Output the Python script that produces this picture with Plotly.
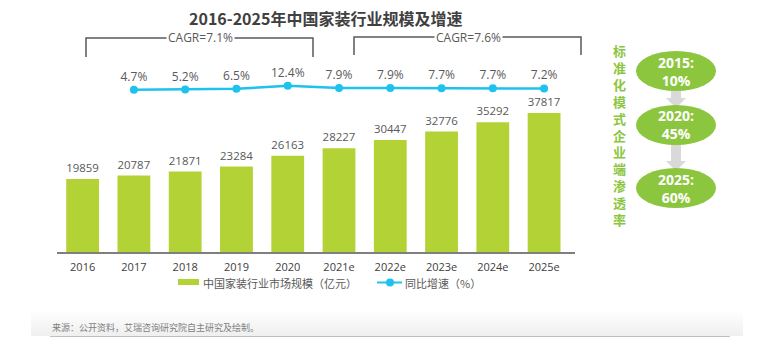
import plotly.graph_objects as go

# ---------------- data ----------------
years = ["2016", "2017", "2018", "2019", "2020", "2021e", "2022e", "2023e", "2024e", "2025e"]
market_size = [19859, 20787, 21871, 23284, 26163, 28227, 30447, 32776, 35292, 37817]
growth_pct = [4.7, 5.2, 6.5, 12.4, 7.9, 7.9, 7.7, 7.7, 7.2]
growth_years = years[1:]
growth_labels = ["4.7%", "5.2%", "6.5%", "12.4%", "7.9%", "7.9%", "7.7%", "7.7%", "7.2%"]
cagr_labels = ["CAGR=7.1%", "CAGR=7.6%"]
penetration_labels = ["2015:<br>10%", "2020:<br>45%", "2025:<br>60%"]
side_title = "标准化模式企业端渗透率"
title_text = "2016-2025年中国家装行业规模及增速"
legend_bar = "中国家装行业市场规模（亿元）"
legend_line = "同比增速（%）"
source_text = "来源：公开资料，艾瑞咨询研究院自主研究及绘制。"

# ---------------- layout geometry (pixels) ----------------
W, H = 784, 349
ML, MR, MT, MB = 57, 209, 30, 97
PW, PH = W - ML - MR, H - MT - MB

def px(x):
    return (x - ML) / PW

def py(y):
    return (H - MB - y) / PH

FONT = "Open Sans, Noto Sans CJK SC, sans-serif"
CJK = "Noto Sans CJK SC, sans-serif"
BAR_COLOR = "#b3d235"
LINE_COLOR = "#1ec2ee"
GREEN = "#8cc63f"
TXT = "#595959"

fig = go.Figure()
fig.add_trace(go.Bar(
    x=years, y=market_size, marker=dict(color=BAR_COLOR, line=dict(width=0)),
    text=[str(v) for v in market_size], textposition="outside",
    textfont=dict(size=12, color=TXT, family=FONT), cliponaxis=False,
    showlegend=False, hoverinfo="skip",
))
fig.add_trace(go.Scatter(
    x=growth_years, y=growth_pct, yaxis="y2", mode="lines+markers+text",
    line=dict(color=LINE_COLOR, width=2.5), marker=dict(color=LINE_COLOR, size=8),
    text=growth_labels, textposition="top center",
    textfont=dict(size=12, color=TXT, family=FONT), cliponaxis=False,
    showlegend=False, hoverinfo="skip",
))

shapes = []
annotations = []

# title
annotations.append(dict(x=px(325), y=py(18), xref="paper", yref="paper", text="<b>" + title_text + "</b>",
                        showarrow=False, font=dict(size=16, color="#404040", family=CJK),
                        xanchor="center", yanchor="middle"))

# CAGR brackets
LC = "#595959"
for (x0, x1, yt, yb, lbl) in [(86, 313, 38, 57, cagr_labels[0]), (354, 581, 37, 55, cagr_labels[1])]:
    shapes.append(dict(type="path", xref="paper", yref="paper",
                       path=f"M {px(x0)},{py(yb)} L {px(x0)},{py(yt)} L {px(x1)},{py(yt)} L {px(x1)},{py(yb)}",
                       line=dict(color=LC, width=1.5)))
    annotations.append(dict(x=px((x0 + x1) / 2 + 1), y=py(yt), xref="paper", yref="paper", text=lbl,
                            showarrow=False, bgcolor="white", borderpad=1,
                            font=dict(size=12, color=TXT, family=FONT), xanchor="center", yanchor="middle"))

# vertical side title (one character per line)
annotations.append(dict(x=px(619), y=py(135), xref="paper", yref="paper",
                        text="<b>" + "<br>".join(side_title) + "</b>",
                        showarrow=False, font=dict(size=13, color=GREEN, family=CJK),
                        xanchor="center", yanchor="middle", align="center"))

# penetration ellipses + arrows
cx = 676
centers = [71, 125, 188]
ew, eh = 80, 40
for i in range(len(centers) - 1):
    top = centers[i] + eh / 2 - 4
    bottom = centers[i + 1] - eh / 2 + 3
    head = bottom - 10
    path = (f"M {px(cx-5)},{py(top)} L {px(cx+5)},{py(top)} L {px(cx+5)},{py(head)} "
            f"L {px(cx+10)},{py(head)} L {px(cx)},{py(bottom)} L {px(cx-10)},{py(head)} "
            f"L {px(cx-5)},{py(head)} Z")
    shapes.append(dict(type="path", xref="paper", yref="paper", path=path,
                       fillcolor="#d9d9d9", line=dict(width=0), layer="below"))
for c, lbl in zip(centers, penetration_labels):
    shapes.append(dict(type="circle", xref="paper", yref="paper",
                       x0=px(cx - ew / 2), x1=px(cx + ew / 2), y0=py(c + eh / 2), y1=py(c - eh / 2),
                       fillcolor=GREEN, line=dict(width=0)))
    annotations.append(dict(x=px(cx), y=py(c), xref="paper", yref="paper", text="<b>" + lbl + "</b>",
                            showarrow=False, font=dict(size=14, color="white", family=FONT),
                            xanchor="center", yanchor="middle"))

# custom legend
shapes.append(dict(type="rect", xref="paper", yref="paper", x0=px(178), x1=px(199), y0=py(279), y1=py(285),
                   fillcolor=BAR_COLOR, line=dict(width=0)))
annotations.append(dict(x=px(201), y=py(282.5), xref="paper", yref="paper", text=legend_bar,
                        showarrow=False, font=dict(size=11, color=TXT, family=CJK), xanchor="left", yanchor="middle"))
shapes.append(dict(type="line", xref="paper", yref="paper", x0=px(377), x1=px(402), y0=py(282.5), y1=py(282.5),
                   line=dict(color=LINE_COLOR, width=2)))
shapes.append(dict(type="circle", xref="paper", yref="paper", x0=px(386), x1=px(394), y0=py(278.5), y1=py(286.5),
                   fillcolor=LINE_COLOR, line=dict(width=0)))
annotations.append(dict(x=px(403), y=py(282.5), xref="paper", yref="paper", text=legend_line,
                        showarrow=False, font=dict(size=11, color=TXT, family=CJK), xanchor="left", yanchor="middle"))

# footer gradient band
steps = 12
y_top, y_bot = 312, 336
for i in range(steps):
    g = int(255 - (255 - 240) * (i + 1) / steps)
    shapes.append(dict(type="rect", xref="paper", yref="paper", x0=px(31), x1=px(743),
                       y0=py(y_top + i * (y_bot - y_top) / steps), y1=py(y_top + (i + 1) * (y_bot - y_top) / steps),
                       fillcolor=f"rgb({g},{g},{g})", line=dict(width=0), layer="below"))
shapes.append(dict(type="line", xref="paper", yref="paper", x0=px(50), x1=px(730), y0=py(336.5), y1=py(336.5),
                   line=dict(color="#bfbfbf", width=1)))
annotations.append(dict(x=px(50), y=py(327), xref="paper", yref="paper", text=source_text,
                        showarrow=False, font=dict(size=9, color="#7f7f7f", family=CJK),
                        xanchor="left", yanchor="middle"))

# axis ranges mapped to pixel geometry
k1 = 0.003676  # px per unit
y1_max = PH / k1
k2 = 0.53      # px per %
ref_v, ref_px = 4.7, 89.8
y2_min = ref_v - (H - MB - ref_px) / k2
y2_max = ref_v + (ref_px - MT) / k2

fig.update_layout(
    width=W, height=H, margin=dict(l=ML, r=MR, t=MT, b=MB),
    paper_bgcolor="white", plot_bgcolor="white",
    bargap=0.36, showlegend=False,
    font=dict(family=FONT, color=TXT),
    xaxis=dict(type="category", categoryorder="array", categoryarray=years,
               showline=True, linecolor="#7f7f7f", linewidth=1.5, ticks="",
               showgrid=False, tickfont=dict(size=11, color="#404040", family=FONT),
               ticklabelstandoff=4),
    yaxis=dict(range=[0, y1_max], visible=False, showgrid=False),
    yaxis2=dict(range=[y2_min, y2_max], overlaying="y", visible=False, showgrid=False),
    shapes=shapes, annotations=annotations,
)

fig.write_html("out.html")
